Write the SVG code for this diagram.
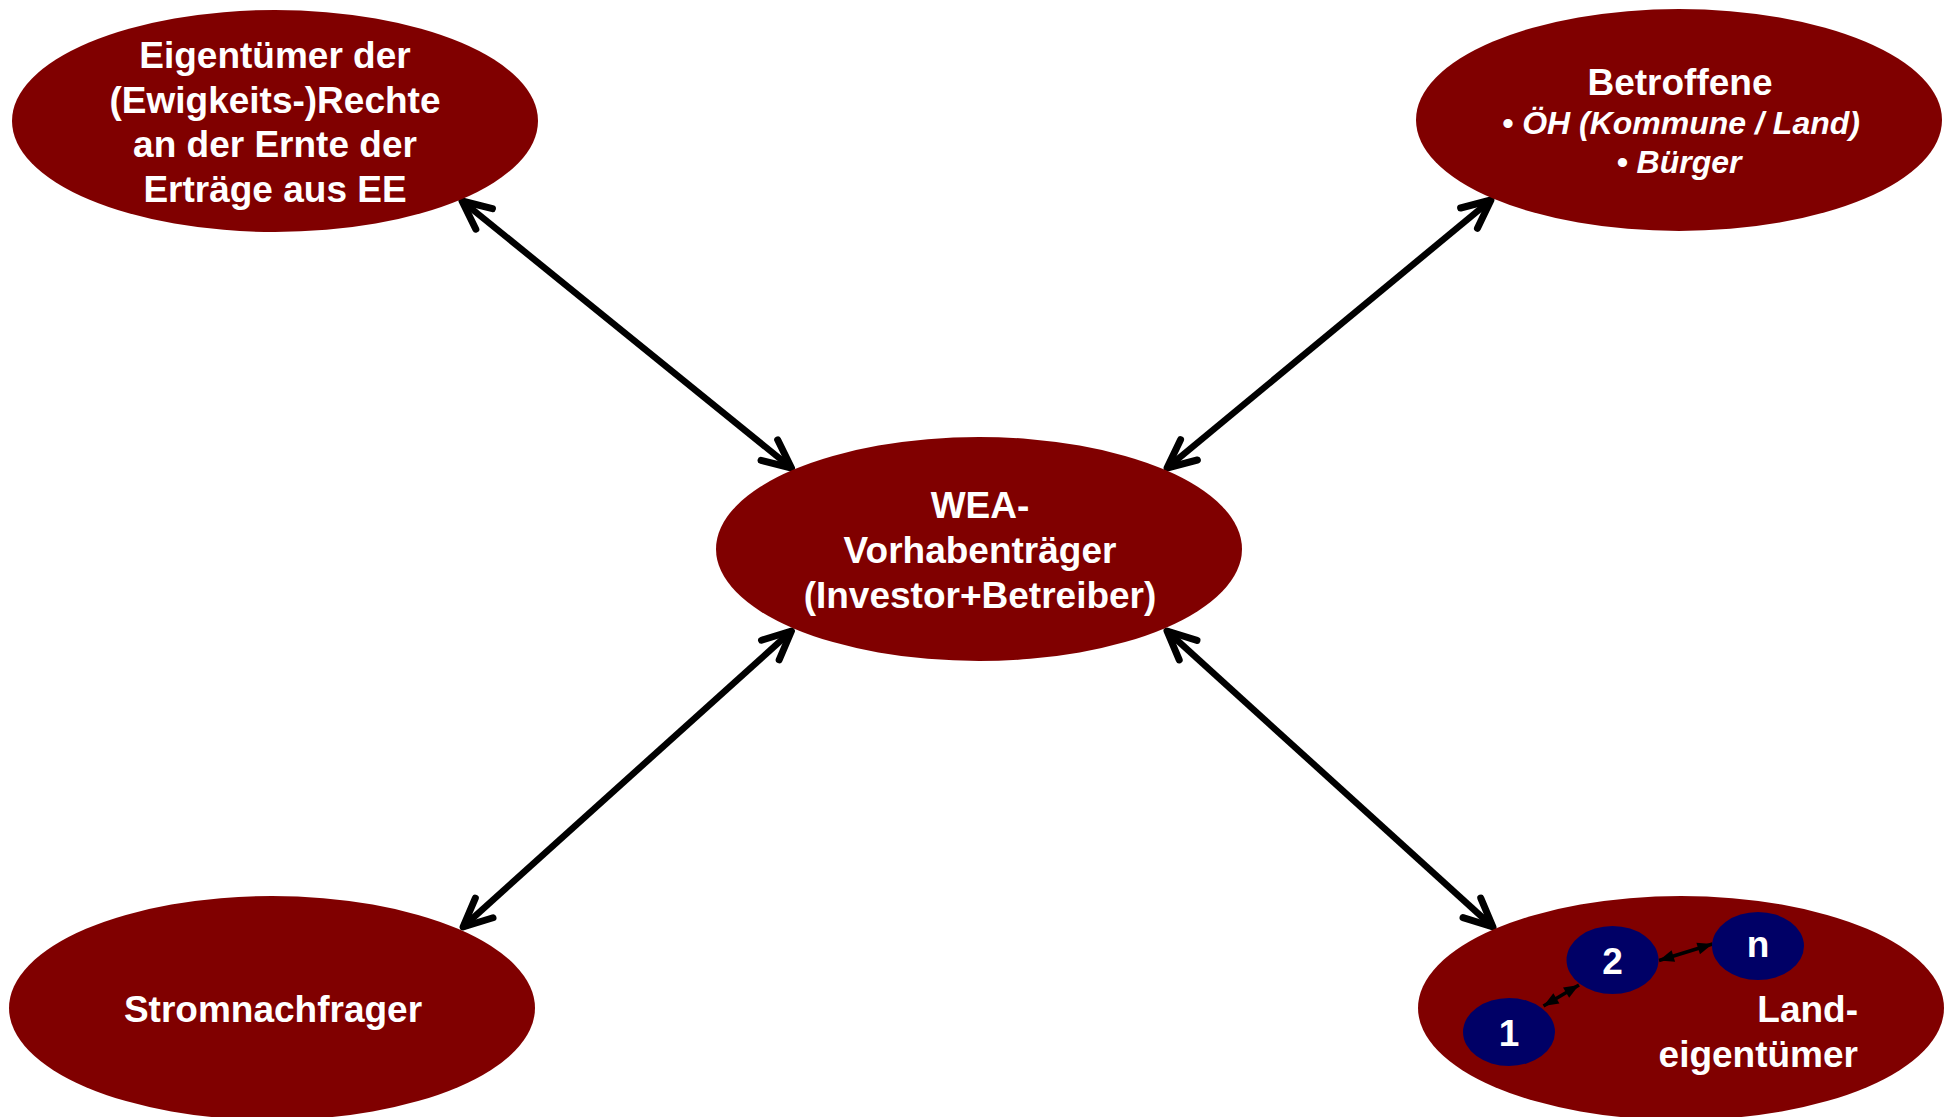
<svg xmlns="http://www.w3.org/2000/svg" width="1951" height="1117" viewBox="0 0 1951 1117">
<style>
.node{fill:#800000}
.sub{fill:#000066}
.t{font-family:"Liberation Sans",Arial,sans-serif;font-weight:bold;font-size:37px;fill:#fff;text-anchor:middle}
.ti{font-family:"Liberation Sans",Arial,sans-serif;font-weight:bold;font-style:italic;font-size:32px;fill:#fff;text-anchor:middle}
.big{stroke:#000;stroke-width:6.5;fill:none;marker-start:url(#open);marker-end:url(#open)}
.small{stroke:#000;stroke-width:3.5;fill:none;marker-start:url(#solid);marker-end:url(#solid)}
</style>
<defs>
<marker id="open" markerUnits="userSpaceOnUse" viewBox="-40 -20 46 40" refX="0" refY="0" markerWidth="46" markerHeight="40" orient="auto-start-reverse">
<path d="M-28.5,-13.2 L0,0 L-28.5,13.2" fill="none" stroke="#000" stroke-width="7" stroke-linecap="round" stroke-linejoin="round"/>
</marker>
<marker id="solid" markerUnits="userSpaceOnUse" viewBox="-16 -8 17 16" refX="0" refY="0" markerWidth="17" markerHeight="16" orient="auto-start-reverse">
<path d="M-15,-6 L0,0 L-15,6 Z" fill="#000"/>
</marker>
</defs>
<rect width="1951" height="1117" fill="#fff"/>
<g id="connectors">
<line class="big" x1="462" y1="201" x2="791.5" y2="468"/>
<line class="big" x1="1491" y1="200" x2="1167" y2="468"/>
<line class="big" x1="791.5" y1="631" x2="463" y2="927"/>
<line class="big" x1="1167" y1="631" x2="1493" y2="927"/>
</g>
<g id="eigentuemer">
<ellipse class="node" cx="275" cy="121" rx="263" ry="111"/>
<text class="t" x="275" y="68">Eigentümer der</text>
<text class="t" x="275" y="113">(Ewigkeits-)Rechte</text>
<text class="t" x="275" y="157">an der Ernte der</text>
<text class="t" x="275" y="202">Erträge aus EE</text>
</g>
<g id="betroffene">
<ellipse class="node" cx="1679" cy="120" rx="263" ry="111"/>
<text class="t" x="1680" y="95">Betroffene</text>
<text class="ti" x="1681" y="134">• ÖH (Kommune / Land)</text>
<text class="ti" x="1679" y="173">• Bürger</text>
</g>
<g id="wea">
<ellipse class="node" cx="979" cy="549" rx="263" ry="112"/>
<text class="t" x="980" y="518">WEA-</text>
<text class="t" x="980" y="563">Vorhabenträger</text>
<text class="t" x="980" y="608">(Investor+Betreiber)</text>
</g>
<g id="stromnachfrager">
<ellipse class="node" cx="272" cy="1008" rx="263" ry="112"/>
<text class="t" x="273" y="1022">Stromnachfrager</text>
</g>
<g id="landeigentuemer">
<ellipse class="node" cx="1681" cy="1008" rx="263" ry="112"/>
<text class="t" x="1858" y="1022" style="text-anchor:end">Land-</text>
<text class="t" x="1858" y="1067" style="text-anchor:end">eigentümer</text>
<g id="le-connectors">
<line class="small" x1="1543.5" y1="1006" x2="1579" y2="985"/>
<line class="small" x1="1659" y1="960.5" x2="1712.5" y2="944"/>
</g>
<g id="le1">
<ellipse class="sub" cx="1509" cy="1032" rx="46" ry="34"/>
<text class="t" x="1509" y="1046">1</text>
</g>
<g id="le2">
<ellipse class="sub" cx="1612.5" cy="960" rx="46" ry="34"/>
<text class="t" x="1612.5" y="974">2</text>
</g>
<g id="len">
<ellipse class="sub" cx="1758" cy="946" rx="46" ry="34"/>
<text class="t" x="1758" y="957">n</text>
</g>
</g>
</svg>
